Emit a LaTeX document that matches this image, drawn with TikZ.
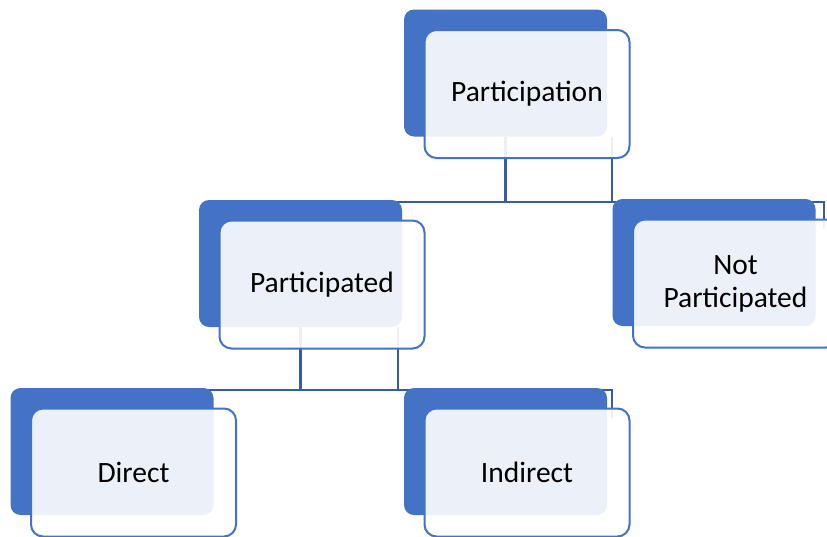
\documentclass[tikz,border=0pt]{standalone}
\usepackage{fontspec}
\setmainfont{Carlito}
\usetikzlibrary{positioning,backgrounds}

\definecolor{smartBlue}{RGB}{68,114,196}
\definecolor{linkBlue}{RGB}{55,92,165}

\tikzset{
  backbox/.style={rectangle, rounded corners=10pt, fill=smartBlue, inner sep=0pt,
    minimum width=203pt, minimum height=127pt},
  frontbox/.style={rectangle, rounded corners=12pt, draw=smartBlue, line width=2pt,
    fill=white, fill opacity=0.9, text opacity=1, inner sep=0pt, align=center,
    minimum width=205pt, minimum height=128pt, font=\fontsize{29.5}{33}\selectfont},
  link/.style={draw=linkBlue, line width=2.2pt}
}

\begin{document}
\begin{tikzpicture}[x=1pt,y=-1pt]
      % Page of the reference, in pixels from the top left
      \useasboundingbox (0,0) rectangle (827,536);
      \def\dx{21.5} \def\dy{21}

      % Dark shapes behind
      \node[backbox] (partB) at (505.5,73) {};
      \node[backbox] (pdB) at (300.5,263.5) {};
      \node[backbox] (npB) at (714,262.5) {};
      \node[backbox] (dirB) at (112,451.5) {};
      \node[backbox] (indB) at (505.5,451.5) {};

      % Light shapes with the labels
      \node[frontbox] (part) at ([shift={(\dx,\dy)}]partB) {Participation};
      \node[frontbox] (pd) at ([shift={(\dx,\dy)}]pdB) {Participated};
      \node[frontbox] (np) at ([shift={(\dx,\dy)}]npB) {Not\\Participated};
      \node[frontbox] (dir) at ([shift={(\dx,\dy)}]dirB) {Direct};
      \node[frontbox] (ind) at ([shift={(\dx,\dy)}]indB) {Indirect};

      % where the elbows meet the children, and their loose ends
      \coordinate (pdTop) at ([yshift=-2.2pt]pdB.north);
      \coordinate (dirTop) at ([yshift=-2.2pt]dirB.north);
      \coordinate (indTop) at ([yshift=-2.2pt]indB.north);
      \coordinate (npTail) at ([xshift=8pt,yshift=-30pt]npB.north east);
      \coordinate (indTail) at ([xshift=5pt,yshift=-30pt]indB.north east);

      % Elbow connectors, kept under the shapes
      \begin{scope}[on background layer]
        \draw[link] (partB.south) -- (partB.south |- pdTop);
        \draw[link] ([xshift=5pt]partB.south east) |- (pdTop);
        \draw[link] (pdTop) -| (npTail);
        \draw[link] (pdB.south) |- (dirTop);
        \draw[link] ([xshift=-4pt]pdB.south east) |- (indTop);
        \draw[link] (dirTop) -| (indTail);
      \end{scope}
\end{tikzpicture}
\end{document}
